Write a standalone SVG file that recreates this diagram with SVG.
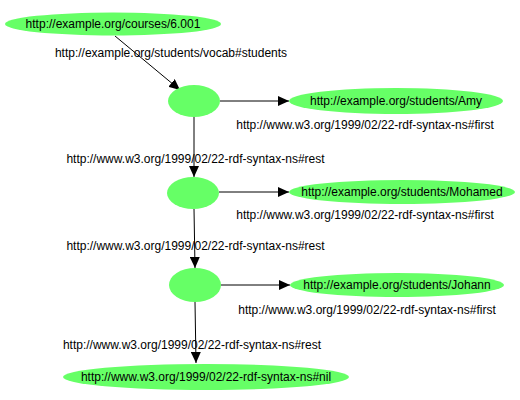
<svg xmlns="http://www.w3.org/2000/svg" width="520" height="400" viewBox="0 0 520 400">
<style>
  .node { fill: #66ff66; stroke: none; }
  .lbl { font-family: "Liberation Sans", Arial, sans-serif; font-size: 12px; fill: #000; text-anchor: middle; }
  .edge { stroke: #000; stroke-width: 1; fill: none; marker-end: url(#arrow); }
</style>
<defs>
  <marker id="arrow" markerUnits="userSpaceOnUse" markerWidth="11" markerHeight="10" refX="11" refY="5" orient="auto">
    <path d="M0,0 L11,5 L0,10 z" fill="#000"/>
  </marker>
</defs>
<rect width="520" height="400" fill="#fff"/>
<g id="connectors">
  <line class="edge" x1="115" y1="36" x2="180" y2="90"/>
  <line class="edge" x1="220" y1="101" x2="289" y2="101"/>
  <line class="edge" x1="194" y1="117" x2="194" y2="177"/>
  <line class="edge" x1="219" y1="192" x2="289" y2="192"/>
  <line class="edge" x1="194" y1="209" x2="195" y2="268"/>
  <line class="edge" x1="221" y1="285" x2="290" y2="285"/>
  <line class="edge" x1="195" y1="302" x2="196" y2="363"/>
  <text class="lbl" x="171" y="57">http://example.org/students/vocab#students</text>
  <text class="lbl" x="365" y="129">http://www.w3.org/1999/02/22-rdf-syntax-ns#first</text>
  <text class="lbl" x="195.5" y="163">http://www.w3.org/1999/02/22-rdf-syntax-ns#rest</text>
  <text class="lbl" x="365" y="219">http://www.w3.org/1999/02/22-rdf-syntax-ns#first</text>
  <text class="lbl" x="195.5" y="250">http://www.w3.org/1999/02/22-rdf-syntax-ns#rest</text>
  <text class="lbl" x="367" y="314">http://www.w3.org/1999/02/22-rdf-syntax-ns#first</text>
  <text class="lbl" x="192" y="349">http://www.w3.org/1999/02/22-rdf-syntax-ns#rest</text>
</g>
<g id="course">
  <ellipse class="node" cx="113" cy="24" rx="108" ry="11.5"/>
  <text class="lbl" x="113" y="28">http://example.org/courses/6.001</text>
</g>
<g id="blank1">
  <ellipse class="node" cx="194" cy="101" rx="26" ry="16"/>
</g>
<g id="amy">
  <ellipse class="node" cx="396" cy="101" rx="107" ry="13"/>
  <text class="lbl" x="396" y="105">http://example.org/students/Amy</text>
</g>
<g id="blank2">
  <ellipse class="node" cx="193" cy="193" rx="26" ry="16"/>
</g>
<g id="mohamed">
  <ellipse class="node" cx="402" cy="192" rx="113" ry="12"/>
  <text class="lbl" x="402" y="196">http://example.org/students/Mohamed</text>
</g>
<g id="blank3">
  <ellipse class="node" cx="195" cy="285" rx="26" ry="17"/>
</g>
<g id="johann">
  <ellipse class="node" cx="397" cy="285" rx="107" ry="12"/>
  <text class="lbl" x="397" y="289">http://example.org/students/Johann</text>
</g>
<g id="nil">
  <ellipse class="node" cx="206" cy="377" rx="143" ry="13"/>
  <text class="lbl" x="206" y="381">http://www.w3.org/1999/02/22-rdf-syntax-ns#nil</text>
</g>
</svg>
